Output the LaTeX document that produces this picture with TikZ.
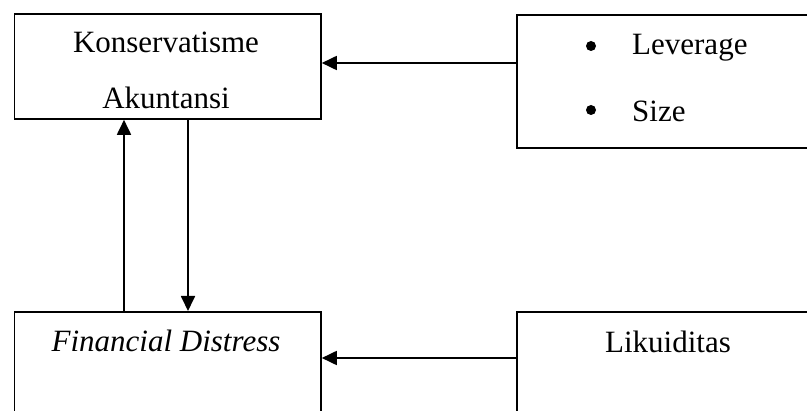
\documentclass[tikz,border=0pt]{standalone}
\usepackage{fontspec}
\setmainfont{Liberation Serif}
\usetikzlibrary{arrows.meta}
\begin{document}
\begin{tikzpicture}[x=1pt,y=-1pt,
  box/.style={draw,line width=1.8pt,rectangle,inner sep=0pt,anchor=north west},
  lbl/.style={anchor=base,inner sep=0pt,font=\fontsize{31}{36}\selectfont},
  dot/.style={circle,fill,inner sep=0pt,minimum size=10pt},
  arr/.style={line width=1.8pt,-{Triangle[length=15pt,width=14pt]}}]
\useasboundingbox (0,0) rectangle (807,411);
\node[box,minimum width=306.5pt,minimum height=104.5pt] (KA) at (13.5,13.5) {};
\node[box,minimum width=307pt,minimum height=133pt] (LS) at (516,14) {};
\node[box,minimum width=306.5pt,minimum height=130pt] (FD) at (13.5,311) {};
\node[box,minimum width=307pt,minimum height=130pt] (LK) at (516,311) {};
\node[lbl] (t1) at (166,53) {Konservatisme};
\node[lbl] (t2) at (166,109) {Akuntansi};
\node[dot] (b1) at (591,46) {};
\node[lbl,anchor=base west] (t3) at (632,55) {Leverage};
\node[dot] (b2) at (591,110) {};
\node[lbl,anchor=base west] (t4) at (632,122) {Size};
\node[lbl] (t5) at (166,352) {\itshape Financial Distress};
\node[lbl] (t6) at (668,353) {Likuiditas};
\coordinate (upx) at (124,0);
\coordinate (dnx) at (188,0);
\coordinate (y1) at (0,63);
\coordinate (y2) at (0,358);
\draw[arr] (LS.west |- y1) -- (KA.east |- y1);
\draw[arr] (LK.west |- y2) -- (FD.east |- y2);
\draw[arr] (FD.north -| upx) -- (KA.south -| upx);
\draw[arr] (KA.south -| dnx) -- (FD.north -| dnx);
\end{tikzpicture}
\end{document}
